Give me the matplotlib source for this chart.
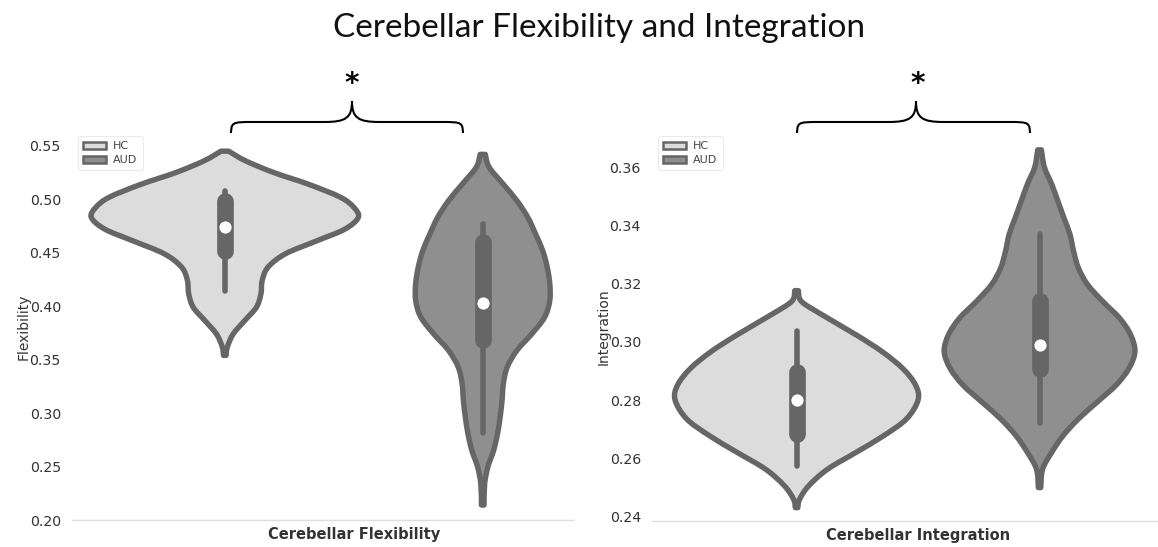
"""Cerebellar flexibility / integration violins (HC vs AUD)."""
import matplotlib
matplotlib.use("Agg")
import matplotlib.pyplot as plt
import numpy as np
from matplotlib.patches import Patch, PathPatch
from matplotlib.path import Path

# ---- data ---------------------------------------------------------------
groups = ["HC", "AUD"]
panels = ["Cerebellar Flexibility", "Cerebellar Integration"]
ylabels = ["Flexibility", "Integration"]

# violin outlines: value along y, half-width in category units
flex_hc_y = [0.545, 0.536, 0.525, 0.514, 0.502, 0.4925, 0.483, 0.472, 0.461, 0.449,
             0.4365, 0.424, 0.4115, 0.399, 0.3866, 0.374, 0.362, 0.354]
flex_hc_w = [0.006, 0.032, 0.076, 0.130, 0.179, 0.200, 0.207, 0.186, 0.142, 0.094,
             0.067, 0.058, 0.056, 0.049, 0.031, 0.013, 0.004, 0.002]
flex_aud_y = [0.542, 0.530, 0.514, 0.4987, 0.483, 0.4675, 0.452, 0.4365, 0.421, 0.4053,
              0.3897, 0.374, 0.3586, 0.343, 0.3275, 0.312, 0.2964, 0.2809, 0.2653,
              0.2497, 0.234, 0.214]
flex_aud_w = [0.004, 0.010, 0.032, 0.053, 0.070, 0.082, 0.093, 0.100, 0.104, 0.104,
              0.096, 0.076, 0.053, 0.038, 0.032, 0.030, 0.027, 0.023, 0.017,
              0.008, 0.003, 0.002]
integ_hc_y = [0.3176, 0.3139, 0.3093, 0.3024, 0.2966, 0.2908, 0.2851, 0.280, 0.2735,
              0.2678, 0.262, 0.2562, 0.2505, 0.2459, 0.243]
integ_hc_w = [0.003, 0.008, 0.042, 0.098, 0.141, 0.175, 0.196, 0.200, 0.181,
              0.144, 0.098, 0.051, 0.020, 0.005, 0.002]
integ_aud_y = [0.366, 0.360, 0.3542, 0.3485, 0.3427, 0.337, 0.3312, 0.3254, 0.3197,
               0.3139, 0.3081, 0.3024, 0.2966, 0.2908, 0.2851, 0.2793, 0.2735,
               0.2678, 0.262, 0.2562, 0.2499]
integ_aud_w = [0.003, 0.008, 0.020, 0.030, 0.040, 0.050, 0.056, 0.064, 0.079,
               0.104, 0.132, 0.150, 0.157, 0.147, 0.126, 0.095, 0.064,
               0.039, 0.020, 0.005, 0.002]

# inner box: whisker low, q1, median, q3, whisker high
flex_hc_box = [0.4145, 0.452, 0.4738, 0.4987, 0.508]
flex_aud_box = [0.281, 0.368, 0.403, 0.460, 0.477]
integ_hc_box = [0.2574, 0.2684, 0.280, 0.2897, 0.3037]
integ_aud_box = [0.2722, 0.2908, 0.2989, 0.3139, 0.3372]

FILL = {"HC": "#dcdcdc", "AUD": "#8f8f8f"}
EDGE = "#666666"
TEXT = "#333333"

W, H = 1158, 547
fig = plt.figure(figsize=(W / 100, H / 100), dpi=100)


def px_rect(x0, x1, y_top, y_bot):
    return [x0 / W, 1 - y_bot / H, (x1 - x0) / W, (y_bot - y_top) / H]


def smooth_segments(pts):
    # Catmull-Rom through the traced points, as cubic bezier pieces
    verts, codes = [], []
    n = len(pts)
    for i in range(n - 1):
        p0 = pts[max(i - 1, 0)]
        p1 = pts[i]
        p2 = pts[i + 1]
        p3 = pts[min(i + 2, n - 1)]
        c1 = p1 + (p2 - p0) / 6.0
        c2 = p2 - (p3 - p1) / 6.0
        verts += [c1, c2, p2]
        codes += [Path.CURVE4] * 3
    return verts, codes


def violin_path(pos, ys, ws):
    ys = np.asarray(ys)
    ws = np.asarray(ws)
    left = np.column_stack([pos - ws, ys])
    right = np.column_stack([pos + ws, ys])[::-1]
    verts, codes = [left[0]], [Path.MOVETO]
    v, c = smooth_segments(left)
    verts += v
    codes += c
    verts.append(right[0])
    codes.append(Path.LINETO)
    v, c = smooth_segments(right)
    verts += v
    codes += c
    verts.append(left[0])
    codes.append(Path.CLOSEPOLY)
    return Path(np.array(verts), codes)


def draw_violin(ax, pos, ys, ws, box, color):
    path = violin_path(pos, ys, ws)
    ax.add_patch(PathPatch(path, facecolor=color, edgecolor=EDGE, lw=3.9,
                           joinstyle="round", zorder=2))
    lo, q1, med, q3, hi = box
    ax.plot([pos, pos], [lo, hi], color=EDGE, lw=4.0, solid_capstyle="round", zorder=3)
    ax.plot([pos, pos], [q1, q3], color=EDGE, lw=12, solid_capstyle="round", zorder=4)
    ax.plot([pos], [med], "o", color="white", ms=8.8, mec="none", zorder=5)


def style_axes(ax, label, ylab, xlim, ylim, ticks):
    ax.set_xlim(*xlim)
    ax.set_ylim(*ylim)
    ax.set_xticks([0])
    ax.set_xticklabels([label], fontweight="bold", fontsize=10.5, color=TEXT)
    ax.set_yticks(ticks)
    ax.set_yticklabels([f"{t:.2f}" for t in ticks], fontsize=10.2, color=TEXT)
    ax.tick_params(length=0, pad=8)
    ax.tick_params(axis="x", pad=5)
    ax.set_ylabel(ylab, fontsize=10, color=TEXT, labelpad=-1)
    for s in ("left", "top", "right"):
        ax.spines[s].set_visible(False)
    ax.spines["bottom"].set_color("#dddddd")
    ax.spines["bottom"].set_linewidth(1.0)
    handles = [Patch(facecolor=FILL[g], edgecolor=EDGE, lw=1.8, label=g) for g in groups]
    leg = ax.legend(handles=handles, loc="upper left", bbox_to_anchor=(0.006, 1.0),
                    fontsize=8, frameon=True, handlelength=2.0, handleheight=0.65,
                    borderpad=0.45, labelspacing=0.35, handletextpad=0.7,
                    borderaxespad=0.3)
    leg.get_frame().set_edgecolor("#e6e6e6")
    leg.get_frame().set_linewidth(0.8)
    for t in leg.get_texts():
        t.set_color("#444444")


# left panel
ax1 = fig.add_axes(px_rect(72, 573, 133, 520))
draw_violin(ax1, -0.2, flex_hc_y, flex_hc_w, flex_hc_box, FILL["HC"])
draw_violin(ax1, 0.2, flex_aud_y, flex_aud_w, flex_aud_box, FILL["AUD"])
style_axes(ax1, panels[0], ylabels[0], (-0.437, 0.340), (0.20, 0.562),
           [0.20, 0.25, 0.30, 0.35, 0.40, 0.45, 0.50, 0.55])

# right panel
ax2 = fig.add_axes(px_rect(652, 1158, 133, 521))
draw_violin(ax2, -0.2, integ_hc_y, integ_hc_w, integ_hc_box, FILL["HC"])
draw_violin(ax2, 0.2, integ_aud_y, integ_aud_w, integ_aud_box, FILL["AUD"])
style_axes(ax2, panels[1], ylabels[1], (-0.438, 0.395), (0.2384, 0.3718),
           [0.24, 0.26, 0.28, 0.30, 0.32, 0.34, 0.36])

# overlay in pixel coordinates: title, braces, stars
ov = fig.add_axes([0, 0, 1, 1], zorder=-1)
ov.set_xlim(0, W)
ov.set_ylim(H, 0)
ov.axis("off")
ov.text(599, 28, "Cerebellar Flexibility and Integration", ha="center", va="center",
        fontsize=24, family=["Lato", "DejaVu Sans"], color="#111111")


def brace(x0, x1, xm, yb=137, yh=122, yt=101, r=22, rc=28):
    verts = [
        (x0, yb), (x0, yh), (x0, yh), (x0 + r, yh),
        (xm - rc, yh),
        (xm - 6, yh), (xm, yh - 4), (xm, yt),
        (xm, yh - 4), (xm + 6, yh), (xm + rc, yh),
        (x1 - r, yh),
        (x1, yh), (x1, yh), (x1, yb),
    ]
    codes = [Path.MOVETO, Path.CURVE4, Path.CURVE4, Path.CURVE4,
             Path.LINETO,
             Path.CURVE4, Path.CURVE4, Path.CURVE4,
             Path.CURVE4, Path.CURVE4, Path.CURVE4,
             Path.LINETO,
             Path.CURVE4, Path.CURVE4, Path.CURVE4]
    ov.add_patch(PathPatch(Path(verts, codes), fill=False, lw=1.5, ec="black"))


brace(231, 463, 352)
ov.text(352, 84, "*", ha="center", va="center", fontsize=20, fontweight="bold",
        family=["DejaVu Sans"], color="black")
brace(797, 1030, 916)
ov.text(918, 84, "*", ha="center", va="center", fontsize=20, fontweight="bold",
        family=["DejaVu Sans"], color="black")

fig.savefig("out.png", dpi=100, facecolor="white")
